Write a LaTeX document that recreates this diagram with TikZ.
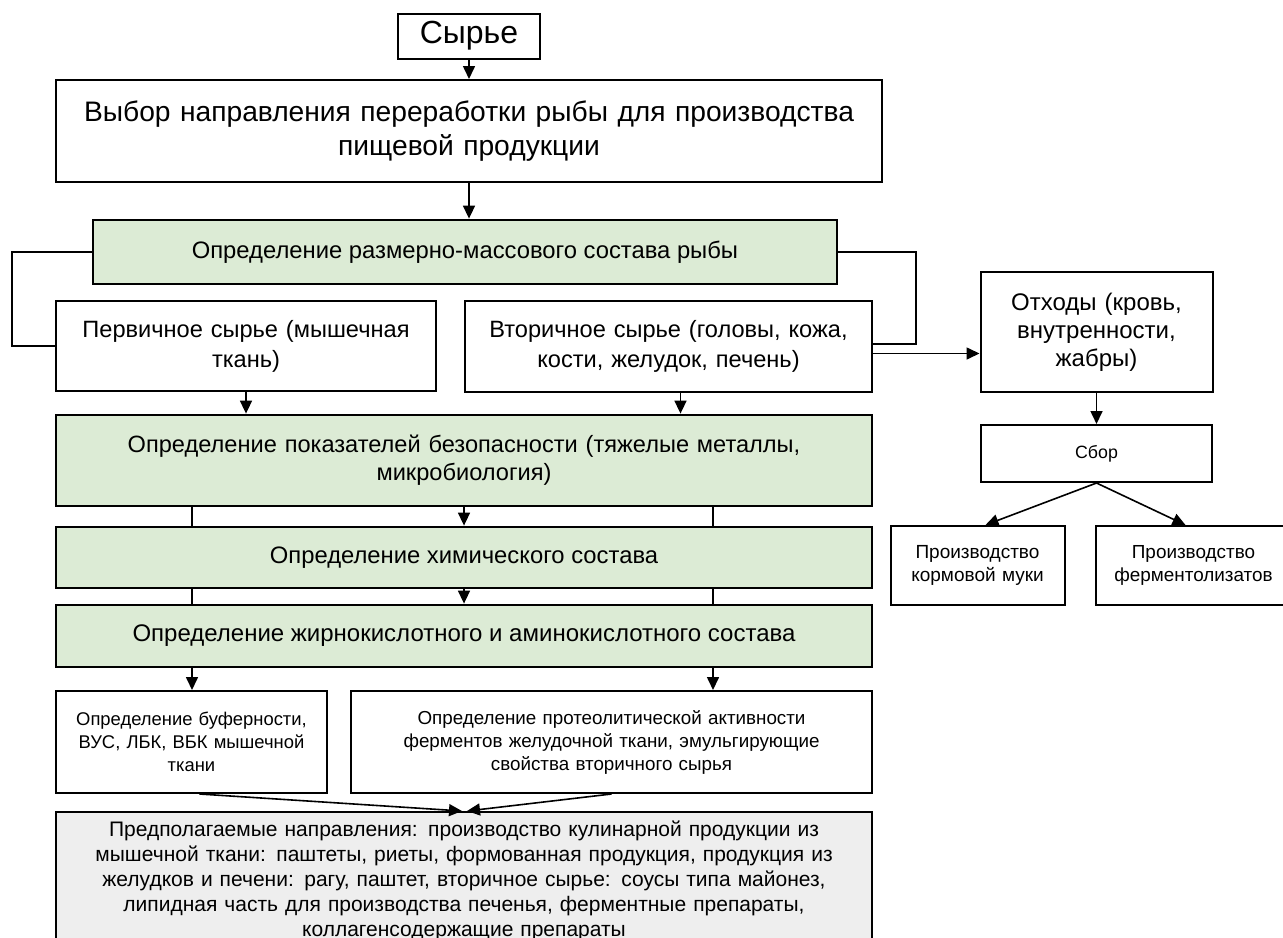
\documentclass[tikz,border=0pt]{standalone}
\usepackage{fontspec}
\setmainfont{Liberation Sans}
\usetikzlibrary{arrows.meta}
\definecolor{greenfill}{HTML}{DCEBD5}
\definecolor{grayfill}{HTML}{EEEEEE}
\tikzset{
  box/.style={draw=black, line width=1pt, align=center, inner sep=2pt},
  greenbox/.style={box, fill=greenfill, line width=1.4pt},
  arr/.style={-{Triangle[length=6.5pt,width=6pt]}, line width=0.8pt},
  link/.style={line width=0.8pt},
}
\begin{document}
\begin{tikzpicture}[x=0.5pt,y=-0.5pt]
  \useasboundingbox (0,0) rectangle (1283,937);
  \clip (0,0) rectangle (1283,937);
  % main column
  \node[box, minimum width=71pt, minimum height=22.5pt, font=\fontsize{16}{19}\selectfont] (syr) at (469,36) {Сырье};
  \node[box, minimum width=413pt, minimum height=51pt, text width=405pt, font=\fontsize{14.1}{17}\selectfont] (vybor) at (469,131)
    {Выбор направления переработки рыбы для производства\\ пищевой продукции};
  \node[greenbox, minimum width=372pt, minimum height=32pt, font=\fontsize{11.9}{14}\selectfont] (razmer) at (465,252)
    {Определение размерно-массового состава рыбы};
  \node[box, minimum width=190pt, minimum height=45pt, text width=185pt, font=\fontsize{11.8}{15}\selectfont] (perv) at (246,346)
    {Первичное сырье (мышечная\\ ткань)};
  \node[box, minimum width=203.5pt, minimum height=45.5pt, text width=198pt, font=\fontsize{11.8}{15}\selectfont] (vtor) at (668.5,346.5)
    {Вторичное сырье (головы, кожа,\\ кости, желудок, печень)};
  \node[greenbox, minimum width=408pt, minimum height=45.5pt, text width=400pt, font=\fontsize{11.8}{14}\selectfont] (bezop) at (464,460.5)
    {Определение показателей безопасности (тяжелые металлы,\\ микробиология)};
  \node[greenbox, minimum width=408pt, minimum height=30.5pt, font=\fontsize{11.9}{14}\selectfont] (xim) at (464,557.5)
    {Определение химического состава};
  \node[greenbox, minimum width=408pt, minimum height=31pt, font=\fontsize{12}{14}\selectfont] (zhir) at (464,636)
    {Определение жирнокислотного и аминокислотного состава};
  \node[box, minimum width=135.5pt, minimum height=51pt, text width=131pt, font=\fontsize{9.2}{11.5}\selectfont] (bufer) at (191.5,742)
    {Определение буферности,\\ ВУС, ЛБК, ВБК мышечной\\ ткани};
  \node[box, minimum width=260.5pt, minimum height=51pt, text width=255pt, font=\fontsize{9.4}{11.5}\selectfont] (proteo) at (611.5,742)
    {Определение протеолитической активности\\ ферментов желудочной ткани, эмульгирующие\\ свойства вторичного сырья};
  \node[box, fill=grayfill, minimum width=408pt, minimum height=69pt, text width=400pt, font=\fontsize{10.5}{12.5}\selectfont] (itog) at (464,881)
    {Предполагаемые направления: производство кулинарной продукции из\\ мышечной ткани: паштеты, риеты, формованная продукция, продукция из\\ желудков и печени: рагу, паштет, вторичное сырье: соусы типа майонез,\\ липидная часть для производства печенья, ферментные препараты,\\ коллагенсодержащие препараты};
  % waste branch
  \node[box, minimum width=115.5pt, minimum height=60pt, text width=112pt, font=\fontsize{12}{14}\selectfont] (otx) at (1096.5,332)
    {Отходы (кровь,\\ внутренности,\\ жабры)};
  \node[box, minimum width=115.5pt, minimum height=28.5pt, font=\fontsize{8.9}{11}\selectfont] (sbor) at (1096.5,453.5) {Сбор};
  \node[box, minimum width=85.5pt, minimum height=39.5pt, text width=83pt, font=\fontsize{9.5}{11.5}\selectfont] (korm) at (977.5,565.5)
    {Производство\\ кормовой муки};
  \node[box, minimum width=96.5pt, minimum height=39.5pt, text width=94pt, font=\fontsize{9.45}{11.5}\selectfont] (ferm) at (1193.5,565.5)
    {Производство\\ ферментолизатов};
  % helper coordinates
  \coordinate (lft) at (12,346);
  \coordinate (rgt) at (916,344);
  \coordinate (colL) at (192,0);
  \coordinate (colR) at (713,0);
  % connectors
  \draw[arr] (syr) -- (vybor);
  \draw[arr] (vybor.south) -- (vybor.south |- razmer.north);
  \draw[link] (razmer.west) -| (lft) -- (perv.west);
  \draw[link] (razmer.east) -| (rgt) -- (rgt -| vtor.east);
  \draw[arr] ([yshift=-3.5pt]vtor.east) -- ([yshift=-3.5pt]vtor.east -| otx.west);
  \draw[arr] (otx) -- (sbor);
  \draw[arr] (sbor.south) -- ([xshift=4pt]korm.north);
  \draw[arr] (sbor.south) -- ([xshift=-4pt]ferm.north);
  \draw[arr] (perv) -- (perv |- bezop.north);
  \draw[arr] ([xshift=6pt]vtor.south) -- ([xshift=6pt]vtor.south |- bezop.north);
  \foreach \a/\b in {bezop/xim, xim/zhir} {
    \draw[link] (\a.south -| colL) -- (\b.north -| colL);
    \draw[link] (\a.south -| colR) -- (\b.north -| colR);
    \draw[arr] (\a) -- (\b);
  }
  \draw[arr] (zhir.south -| colL) -- (bufer.north -| colL);
  \draw[arr] (zhir.south -| colR) -- (proteo.north -| colR);
  \draw[arr] ([xshift=4pt]bufer.south) -- ([xshift=-1pt]itog.north);
  \draw[arr] (proteo.south) -- ([xshift=1.5pt]itog.north);
\end{tikzpicture}
\end{document}
